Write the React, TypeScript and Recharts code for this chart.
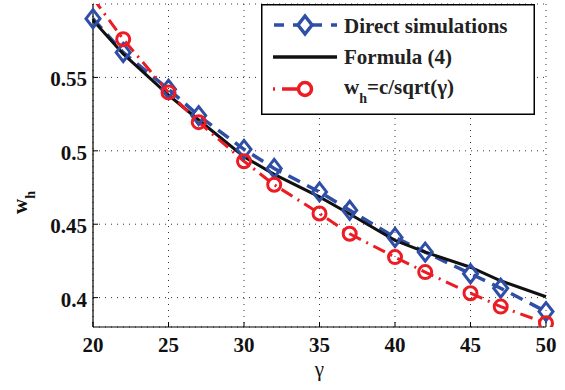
import * as React from 'react';
import { LineChart, Line, XAxis, YAxis, CartesianGrid, Legend } from 'recharts';

const gammaValues = [20, 22, 25, 27, 30, 32, 35, 37, 40, 42, 45, 47, 50];
const simValues = [0.590, 0.567, 0.542, 0.524, 0.501, 0.488, 0.472, 0.4595, 0.441, 0.431, 0.4163, 0.4064, 0.3905];
const formulaValues = [0.589, 0.566, 0.538, 0.521, 0.496, 0.484, 0.4686, 0.457, 0.439, 0.431, 0.4207, 0.4115, 0.4006];
const sqrtValues = [0.604, 0.576, 0.5398, 0.5195, 0.4929, 0.4769, 0.4573, 0.4435, 0.4276, 0.4174, 0.403, 0.3939, 0.3826];

const xTicks = [20, 25, 30, 35, 40, 45, 50];
const yTicks = [0.4, 0.45, 0.5, 0.55];
const yDomain = [0.38, 0.6];

const BLUE = '#2f4ea6';
const RED = '#ec1c24';
const BLACK = '#111111';
const FONT = "'Liberation Serif', 'Times New Roman', serif";

// force the serif face on every svg text in the chart
const serifRef = (el: SVGTextElement | null) => {
  if (el) el.style.setProperty('font-family', FONT, 'important');
};

const T = (props: any) => {
  const { bold = true, size = 21, children, ...rest } = props;
  return (
    <text ref={serifRef} fontWeight={bold ? 'bold' : 'normal'} fontSize={size} fontFamily={FONT} {...rest}>
      {children}
    </text>
  );
};

const data = gammaValues.map((g, i) => ({
  gamma: g,
  sim: simValues[i],
  formula: formulaValues[i],
  approx: sqrtValues[i],
}));

const XTick = (props: any) => {
  const { x, y, payload } = props;
  return (
    <g>
      <line x1={x} x2={x} y1={y - 8} y2={y - 13} stroke="#000" strokeWidth={1} />
      <T x={x} y={y + 17} textAnchor="middle" fill="#111">{payload.value}</T>
    </g>
  );
};

const YTick = (props: any) => {
  const { x, y, payload } = props;
  return (
    <g>
      <line x1={x + 8} x2={x + 13} y1={y} y2={y} stroke="#000" strokeWidth={1} />
      <T x={x + 2} y={y + 9} textAnchor="end" fill="#111">{payload.value}</T>
    </g>
  );
};

const TopTick = (props: any) => {
  const { x, y } = props;
  return <line x1={x} x2={x} y1={y + 8} y2={y + 13} stroke="#000" strokeWidth={1} />;
};

const RightTick = (props: any) => {
  const { x, y } = props;
  return <line x1={x - 8} x2={x - 13} y1={y} y2={y} stroke="#000" strokeWidth={1} />;
};

const Diamond = (props: any) => {
  const { cx, cy, index } = props;
  if (cx == null || cy == null) return <g key={`d-${index}`} />;
  return (
    <path
      key={`d-${index}`}
      d={`M${cx},${cy - 9} L${cx + 7},${cy} L${cx},${cy + 9} L${cx - 7},${cy} Z`}
      fill="none"
      stroke={BLUE}
      strokeWidth={3}
    />
  );
};

const Ring = (props: any) => {
  const { cx, cy, index, value } = props;
  if (cx == null || cy == null || value > yDomain[1]) return <g key={`r-${index}`} />;
  return <circle key={`r-${index}`} cx={cx} cy={cy} r={6.5} fill="none" stroke={RED} strokeWidth={3} />;
};

const LegendBox = () => (
  <svg width={274} height={111} style={{ display: 'block' }}>
    <rect x={0.75} y={0.75} width={272.5} height={109.5} fill="#fff" stroke="#000" strokeWidth={1.5} />
    <line x1={12} x2={76} y1={21} y2={21} stroke={BLUE} strokeWidth={3.5} strokeDasharray="10 9" strokeDashoffset={-1} />
    <path d="M44,12 L51,21 L44,30 L37,21 Z" fill="#fff" stroke={BLUE} strokeWidth={3.5} />
    <T x={83} y={29} fill="#222">Direct simulations</T>

    <line x1={12} x2={76} y1={53} y2={53} stroke={BLACK} strokeWidth={3.5} />
    <T x={83} y={60} fill="#222">Formula (4)</T>

    <line x1={12} x2={76} y1={85} y2={85} stroke={RED} strokeWidth={3.5} strokeDasharray="2 7 20 7 2 99" />
    <circle cx={44} cy={85} r={6.5} fill="#fff" stroke={RED} strokeWidth={3.5} />
    <T x={83} y={90} fill="#222">
      <tspan>w</tspan>
      <tspan dy={9} fontSize={14}>h</tspan>
      <tspan dy={-9}>=c/sqrt(γ)</tspan>
    </T>
  </svg>
);

const YLabel = () => (
  <T transform="translate(27, 214) rotate(-90)" fill="#111">
    <tspan>w</tspan>
    <tspan dy={8} fontSize={14}>h</tspan>
  </T>
);

const XLabel = (props: any) => {
  const { viewBox } = props;
  const cx = viewBox.x + viewBox.width / 2;
  return (
    <T x={cx} y={376} textAnchor="middle" bold={false} fill="#111">γ</T>
  );
};

export default function App() {
  return (
    <div style={{ position: 'absolute', left: 0, top: 0, width: 565, height: 390, background: '#fff' }}>
      <LineChart width={565} height={390} data={data} margin={{ top: 4, right: 19, left: 0, bottom: 0 }}>
        <CartesianGrid stroke="#333" strokeDasharray="1 5" strokeWidth={1} />
        <XAxis
          dataKey="gamma"
          type="number"
          domain={[20, 50]}
          ticks={xTicks}
          height={63}
          stroke="#000"
          strokeWidth={1.2}
          tickLine={false}
          tick={<XTick />}
          label={<XLabel />}
        />
        <XAxis
          xAxisId="top"
          orientation="top"
          dataKey="gamma"
          type="number"
          domain={[20, 50]}
          ticks={xTicks}
          height={0}
          stroke="#000"
          strokeWidth={1.2}
          tickLine={false}
          tick={<TopTick />}
        />
        <YAxis
          type="number"
          domain={yDomain}
          ticks={yTicks}
          allowDataOverflow
          width={93}
          stroke="#000"
          strokeWidth={1.2}
          tickLine={false}
          tick={<YTick />}
          label={<YLabel />}
        />
        <YAxis
          yAxisId="right"
          orientation="right"
          type="number"
          domain={yDomain}
          ticks={yTicks}
          allowDataOverflow
          width={0}
          stroke="#000"
          strokeWidth={1.2}
          tickLine={false}
          tick={<RightTick />}
        />
        <Line
          dataKey="sim"
          stroke={BLUE}
          strokeWidth={3.5}
          strokeDasharray="13 8"
          dot={<Diamond />}
          activeDot={false}
          isAnimationActive={false}
        />
        <Line
          dataKey="formula"
          stroke={BLACK}
          strokeWidth={3}
          dot={false}
          activeDot={false}
          isAnimationActive={false}
        />
        <Line
          dataKey="approx"
          stroke={RED}
          strokeWidth={3}
          strokeDasharray="13 6 2 6"
          dot={<Ring />}
          activeDot={false}
          isAnimationActive={false}
        />
        <Legend
          layout="vertical"
          align="center"
          verticalAlign="middle"
          content={<LegendBox />}
          wrapperStyle={{ position: 'absolute', left: 261, top: 4, width: 274, height: 111 }}
        />
      </LineChart>
    </div>
  );
}
